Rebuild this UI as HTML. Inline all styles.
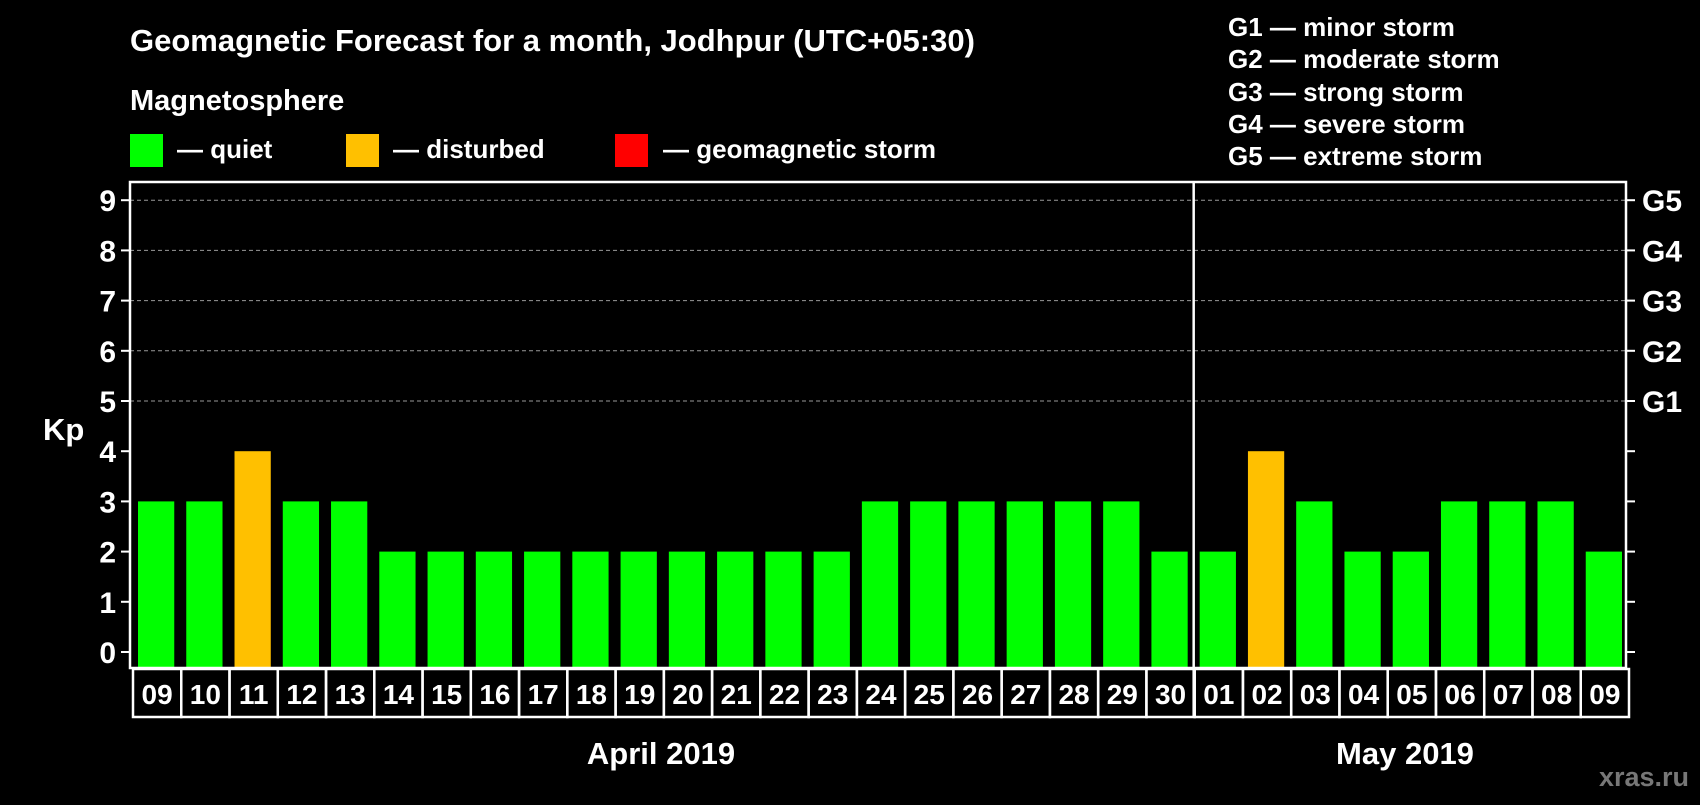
<!DOCTYPE html>
<html><head><meta charset="utf-8"><style>
body{margin:0;background:#000;}
svg text{font-family:"Liberation Sans",sans-serif;font-weight:bold;fill:#fff;}
</style></head><body>
<svg width="1700" height="800" viewBox="0 0 1700 800" xmlns="http://www.w3.org/2000/svg">
<rect width="1700" height="800" fill="#000"/>
<text x="130" y="51" font-size="31">Geomagnetic Forecast for a month, Jodhpur (UTC+05:30)</text>
<text x="130" y="110" font-size="29">Magnetosphere</text>
<rect x="130" y="134" width="33" height="33" fill="#00ff00"/>
<text x="177" y="158" font-size="26">— quiet</text>
<rect x="346" y="134" width="33" height="33" fill="#ffc000"/>
<text x="393" y="158" font-size="26">— disturbed</text>
<rect x="615" y="134" width="33" height="33" fill="#ff0000"/>
<text x="663" y="158" font-size="26">— geomagnetic storm</text>
<g font-size="26">
<text x="1228" y="36">G1 — minor storm</text>
<text x="1228" y="68">G2 — moderate storm</text>
<text x="1228" y="101">G3 — strong storm</text>
<text x="1228" y="133">G4 — severe storm</text>
<text x="1228" y="165">G5 — extreme storm</text>
</g>
<text x="43" y="440" font-size="31">Kp</text>
<g id="plot"></g>
<text x="661" y="764" font-size="31" text-anchor="middle">April 2019</text>
<text x="1405" y="764" font-size="31" text-anchor="middle">May 2019</text>
<text x="1689" y="786" font-size="27" text-anchor="end" style="fill:#777">xras.ru</text>
</svg>
<script>
const days=["09","10","11","12","13","14","15","16","17","18","19","20","21","22","23","24","25","26","27","28","29","30","01","02","03","04","05","06","07","08","09"];
const kp=[3,3,4,3,3,2,2,2,2,2,2,2,2,2,2,3,3,3,3,3,3,2,2,4,3,2,2,3,3,3,2];
const yTicks=[0,1,2,3,4,5,6,7,8,9];
const gLabels=["G1","G2","G3","G4","G5"];
const gLevels=[5,6,7,8,9];
const monthBreak=22;
const NS="http://www.w3.org/2000/svg";
const L=130,R=1626,T=182,B=668;
const colW=(R-L)/days.length;
const y=v=>652-50.2*v;
const x=i=>L+i*colW;
const g=document.getElementById('plot');
function mk(t,a){const e=document.createElementNS(NS,t);for(const k in a)e.setAttribute(k,a[k]);g.appendChild(e);return e;}
yTicks.forEach(v=>{
  if(v>=5){const l=mk('line',{x1:L,x2:R,y1:y(v),y2:y(v),stroke:'#999','stroke-dasharray':'4,3','stroke-width':1});
  
  }
  const t1=mk('line',{x1:L-9,x2:L,y1:y(v),y2:y(v),stroke:'#fff','stroke-width':2});
  
  
  const t2=mk('line',{x1:R,x2:R+9,y1:y(v),y2:y(v),stroke:'#fff','stroke-width':2});
  
  
  const tx=mk('text',{x:L-14,y:y(v)+11,'font-size':30,'text-anchor':'end'});tx.textContent=v;
  
  
});
gLevels.forEach((v,i)=>{const tx=mk('text',{x:R+16,y:y(v)+11,'font-size':30});tx.textContent=gLabels[i];
  
  });
kp.forEach((v,i)=>{
  const r=mk('rect',{x:x(i)+8,y:y(v),width:colW-12,height:B-y(v),fill:v>=5?'#ff0000':(v>=4?'#ffc000':'#00ff00')});
  
  
  const b=mk('rect',{x:x(i)+3,y:B+1,width:colW,height:48,fill:'none',stroke:'#fff','stroke-width':2.5});
  
  
  const t=mk('text',{x:x(i)+3+colW/2,y:B+36,'font-size':28,'text-anchor':'middle'});t.textContent=days[i];
  
  
});
const fr=mk('rect',{x:L,y:T,width:R-L,height:B-T,fill:'none',stroke:'#fff','stroke-width':2.5});


const sep=mk('line',{x1:x(monthBreak)+2,x2:x(monthBreak)+2,y1:T,y2:B+49,stroke:'#fff','stroke-width':2.5});


</script>
</body></html>
